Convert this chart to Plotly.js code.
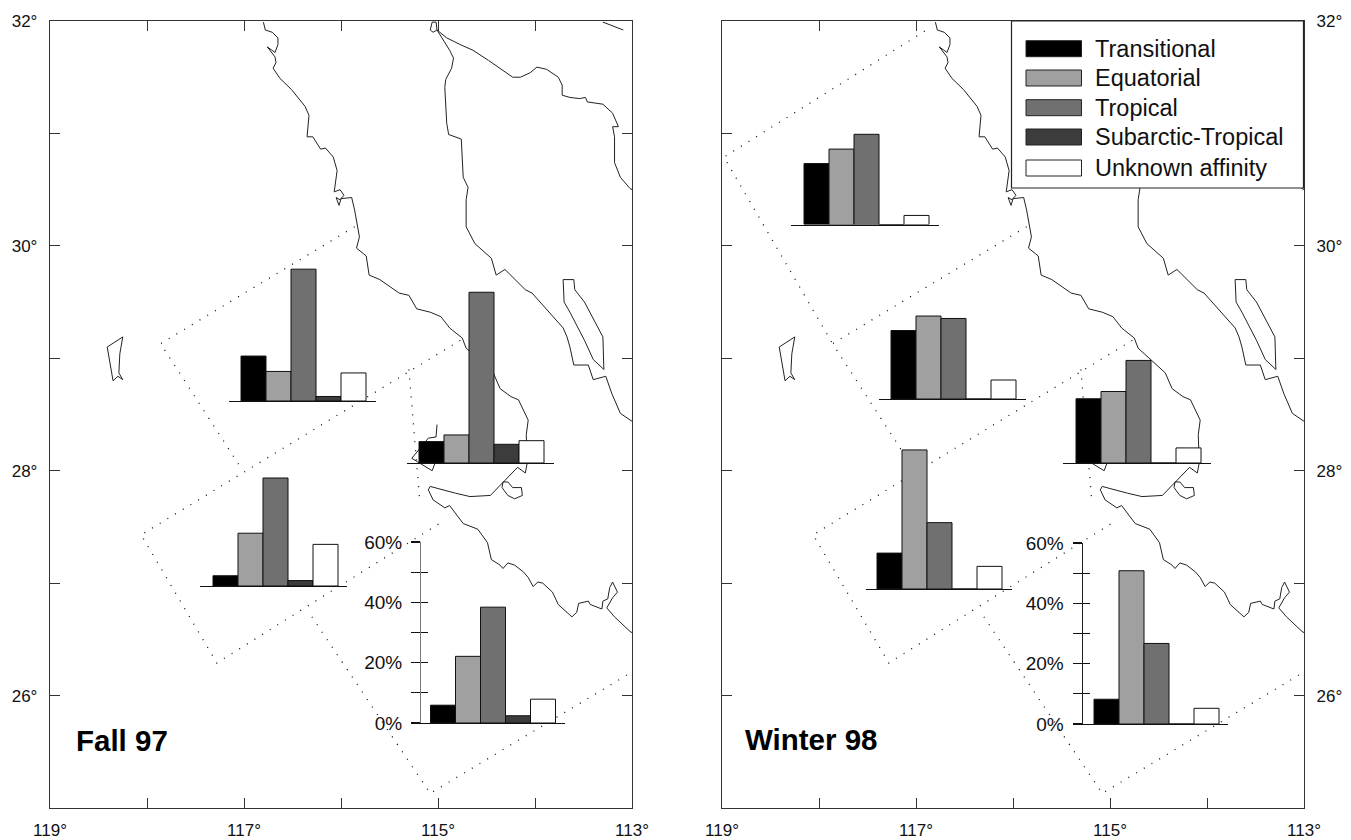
<!DOCTYPE html>
<html>
<head>
<meta charset="utf-8">
<script src="https://cdn.plot.ly/plotly-3.0.1.min.js"></script>
<style>html,body{margin:0;padding:0;background:#fff}</style>
</head>
<body>
<div id="chart" style="width:1351px;height:840px"></div>
<script>
// ---- categories and bar values (percent) ----
const categories = ['Transitional','Equatorial','Tropical','Subarctic-Tropical','Unknown affinity'];
const fall97NorthWest = [14.9, 9.8, 43.7, 1.5, 9.3];
const fall97Cedros    = [7.1, 9.3, 56.6, 6.2, 7.4];
const fall97Offshore  = [3.4, 17.5, 35.8, 1.8, 13.8];
const fall97South     = [5.9, 22.1, 38.4, 2.4, 7.9];
const winter98North   = [20.2, 25.0, 29.9, 0, 3.0];
const winter98NorthWest = [22.7, 27.5, 26.7, 0, 6.3];
const winter98Cedros  = [21.3, 23.7, 34.0, 0, 5.0];
const winter98Offshore = [11.9, 46.1, 22.0, 0, 7.5];
const winter98South   = [8.2, 50.8, 26.7, 0, 5.2];

const lonTicks = [119,118,117,116,115,114,113];
const lonLabels = ['119°','','117°','','115°','','113°'];
const latTicks = [25,26,27,28,29,30,31,32];
const latLabels = ['','26°','','28°','','30°','','32°'];
const pctTicks = [0,10,20,30,40,50,60];
const pctLabels = ['0%','','20%','','40%','','60%'];

// ---- coastline (lon, lat) ----
const pacificLon = [116.80,116.78,116.71,116.65,116.65,116.68,116.76,116.68,116.67,116.70,116.63,116.51,116.37,116.33,116.35,116.29,116.21,116.16,116.08,116.04,116.07,116.01,115.97,116.01,116.05,116.02,116.00,115.89,115.86,115.81,115.84,115.74,115.71,115.60,115.40,115.30,115.22,115.08,114.97,114.88,114.75,114.71,114.43,114.36,114.25,114.17,114.07,114.09,114.08,114.10,114.18,114.33,114.46,114.67,114.82,115.08,115.10,115.05,114.93,114.88,114.82,114.74,114.59,114.49,114.45,114.36,114.33,114.28,114.21,114.12,114.07,114.02,113.97,113.92,113.82,113.76,113.62,113.57,113.55,113.45,113.43,113.31,113.30,113.25,113.23,113.20,113.15,113.20,113.26,113.18,113.02,113.00];
const pacificLat = [31.99,31.92,31.90,31.85,31.79,31.72,31.77,31.68,31.63,31.58,31.49,31.39,31.24,31.16,30.97,30.97,30.86,30.87,30.79,30.67,30.48,30.50,30.45,30.41,30.43,30.36,30.42,30.43,30.32,30.08,29.98,29.91,29.74,29.70,29.58,29.56,29.44,29.41,29.37,29.27,29.18,29.09,28.87,28.73,28.66,28.63,28.45,28.32,28.07,27.98,28.03,27.90,27.78,27.77,27.80,27.86,27.83,27.74,27.67,27.69,27.62,27.53,27.48,27.36,27.21,27.16,27.13,27.18,27.16,27.10,27.05,26.97,27.01,27.00,26.92,26.81,26.70,26.74,26.82,26.84,26.81,26.77,26.84,26.86,26.96,27.01,26.92,26.87,26.78,26.70,26.57,26.56];
const lagoonLon = [114.33,114.34,114.28,114.21,114.13,114.14,114.23,114.28,114.33];
const lagoonLat = [27.90,27.85,27.78,27.75,27.78,27.85,27.85,27.90,27.90];
const cedrosLon = [115.01,115.02,115.10,115.27,115.06,115.03];
const cedrosLat = [28.41,28.30,28.29,28.11,28.00,28.07];
const guadalupeLon = [118.41,118.25,118.28,118.29,118.25,118.30,118.35,118.38,118.41];
const guadalupeLat = [29.10,29.19,29.04,28.87,28.81,28.84,28.80,28.96,29.10];
const deltaLon = [115.08,115.05,115.01,115.02,115.06,115.08];
const deltaLat = [31.92,31.90,31.92,31.99,31.99,31.92];
const gulfBajaLon = [115.01,114.88,114.84,114.86,114.92,114.93,114.91,114.89,114.76,114.75,114.74,114.69,114.71,114.71,114.62,114.45,114.40,114.31,114.10,114.03,113.86,113.71,113.67,113.64,113.60,113.45,113.40,113.27,113.21,113.12,113.00];
const gulfBajaLat = [31.92,31.74,31.67,31.58,31.48,31.41,31.09,30.99,30.95,30.76,30.61,30.52,30.41,30.17,30.02,29.89,29.74,29.79,29.61,29.58,29.41,29.27,29.19,29.10,28.94,28.94,28.81,28.84,28.69,28.51,28.44];
const sonoraLon = [115.01,114.91,114.77,114.64,114.48,114.36,114.23,114.15,114.05,113.98,113.88,113.76,113.72,113.72,113.64,113.54,113.48,113.46,113.30,113.20,113.14,113.20,113.18,113.18,113.12,113.02,113.00];
const sonoraLat = [31.92,31.85,31.79,31.74,31.65,31.58,31.50,31.50,31.54,31.59,31.57,31.50,31.43,31.34,31.32,31.31,31.32,31.28,31.26,31.18,31.06,31.06,30.97,30.74,30.61,30.51,30.50];
const cornerLon = [113.30,113.09];
const cornerLat = [31.99,31.92];
const angelLon = [113.71,113.60,113.59,113.49,113.30,113.29,113.40,113.49,113.64,113.70,113.71];
const angelLat = [29.70,29.70,29.61,29.50,29.19,28.90,28.99,29.16,29.41,29.50,29.70];
const coast = [[pacificLon,pacificLat],[lagoonLon,lagoonLat],[cedrosLon,cedrosLat],[guadalupeLon,guadalupeLat],[deltaLon,deltaLat],[gulfBajaLon,gulfBajaLat],[sonoraLon,sonoraLat],[cornerLon,cornerLat],[angelLon,angelLat]];

// ---- dotted survey boundaries (lon, lat) ----
const dotsCommon = [
  [[115.86,117.86,117.02],[30.17,29.13,28.01]],
  [[114.77,118.06,117.28,114.95],[29.16,27.43,26.29,27.55]],
  [[116.30,115.08,113.00],[26.70,25.13,26.21]],
  [[115.30,115.19],[28.90,27.75]]
];
const dotsWinterOnly = [
  [[116.91,118.98,117.86],[31.91,30.79,29.13]]
];

// ---- placement of the small charts on the page (pixels) ----
const W = 1351, H = 840;
const insets = [
  {v:fall97NorthWest, l:229, r:376, bar:241, base:401},
  {v:fall97Cedros,    l:407, r:554, bar:419, base:463},
  {v:fall97Offshore,  l:200, r:347, bar:213, base:586},
  {v:fall97South,     l:411, r:565, bar:430.5, base:723, ax:420},
  {v:winter98North,   l:791, r:939, bar:804, base:224.5},
  {v:winter98NorthWest, l:879, r:1026, bar:891, base:399},
  {v:winter98Cedros,  l:1063, r:1211, bar:1076, base:463},
  {v:winter98Offshore,l:865.5, r:1011.5, bar:877, base:589},
  {v:winter98South,   l:1074, r:1228, bar:1094, base:724, ax:1081.5}
];
const colors = ['#000000','#a0a0a0','#707070','#3c3c3c','#ffffff'];

const px = x => x / W, py = y => 1 - y / H;
const traces = [];
const layout = {
  width: W, height: H, showlegend: false, paper_bgcolor: '#fff', plot_bgcolor: 'rgba(0,0,0,0)',
  margin: {l:0,r:0,t:0,b:0,autoexpand:false},
  font: {family:'Liberation Sans, Arial, sans-serif', color:'#111'},
  bargap: 0, hovermode: false, shapes: [], annotations: []
};

function mainAxes(n, x0, x1, side) {
  const s = n === 1 ? '' : String(n);
  const common = {showgrid:false, zeroline:false, ticks:'inside', ticklen:10, tickwidth:1, tickcolor:'#333',
    showline:true, linecolor:'#333', linewidth:1.2, mirror:'ticks', tickfont:{size:17,color:'#111'}, fixedrange:true};
  layout['xaxis'+s] = Object.assign({}, common, {domain:[px(x0),px(x1)], range:[119,113], tickmode:'array', tickvals:lonTicks, ticktext:lonLabels, anchor:'y'+s, ticklabelstandoff:6});
  layout['yaxis'+s] = Object.assign({}, common, {domain:[py(808),py(21)], range:[25,32], tickmode:'array', tickvals:latTicks, ticktext:latLabels, anchor:'x'+s, side:side, ticklabelstandoff:8});
}
mainAxes(1, 50, 632, 'left');
mainAxes(2, 722, 1304, 'right');

function addLines(list, n, style) {
  const s = n === 1 ? '' : String(n);
  list.forEach(f => traces.push({type:'scatter', mode:'lines', x:f[0], y:f[1], xaxis:'x'+s, yaxis:'y'+s, line:style, hoverinfo:'skip', cliponaxis:true}));
}
const coastStyle = {color:'#222', width:1};
const dotStyle = {color:'#111', width:1.3, dash:'1px,8px'};
[1,2].forEach(n => { addLines(coast, n, coastStyle); addLines(dotsCommon, n, dotStyle); });
addLines(dotsWinterOnly, 2, dotStyle);

let next = 3;
insets.forEach(ins => {
  const s = String(next++);
  const lo = -0.5 - (ins.bar - ins.l) / 25, hi = 4.5 + (ins.r - ins.bar - 125) / 25;
  layout['xaxis'+s] = {domain:[px(ins.l),px(ins.r)], range:[lo,hi], anchor:'y'+s, showgrid:false, zeroline:false, showticklabels:false, ticks:'', showline:true, linecolor:'#111', linewidth:1.3, fixedrange:true};
  layout['yaxis'+s] = {domain:[py(ins.base),py(ins.base-181)], range:[0,60], anchor:'x'+s, showgrid:false, zeroline:false, visible:false, fixedrange:true};
  if (ins.ax) {
    Object.assign(layout['yaxis'+s], {visible:true, anchor:'free', position:px(ins.ax), side:'left', showline:true, linecolor:ins.ax < 700 ? '#777' : '#222', linewidth:1.3,
      tickmode:'array', tickvals:pctTicks, ticktext:pctLabels, ticks:'outside', ticklen:9, tickwidth:1.2, tickcolor:'#111', tickfont:{size:19,color:'#111'}, ticklabelstandoff:5});
  }
  traces.push({type:'bar', x:[0,1,2,3,4], y:ins.v, xaxis:'x'+s, yaxis:'y'+s, width:1, text:categories, textposition:'none', hoverinfo:'skip',
    marker:{color:colors, line:{color:'#111', width:1}}});
});
// inner half of the crossing ticks on the two labelled scales
insets.filter(i => i.ax).forEach(ins => {
  const s = String(next++);
  const host = insets.indexOf(ins) + 3;
  layout['yaxis'+s] = {domain:layout['yaxis'+host].domain, range:[0,60], overlaying:'y'+host, anchor:'free', position:px(ins.ax), side:'left',
    showgrid:false, zeroline:false, showline:false, showticklabels:false, tickmode:'array', tickvals:pctTicks, ticks:'inside', ticklen:7, tickwidth:1.2, tickcolor:'#111', fixedrange:true};
  traces.push({type:'scatter', mode:'lines', x:[null], y:[null], xaxis:'x'+host, yaxis:'y'+s, hoverinfo:'skip'});
});

// legend box
layout.shapes.push({type:'rect', layer:'above', xref:'paper', yref:'paper', x0:px(1011.5), x1:px(1303.5), y0:py(188), y1:py(21), fillcolor:'#fff', line:{color:'#222',width:1.2}});
const legendRows = [48.7, 78, 107.7, 137, 168];
categories.forEach((c,i) => {
  layout.shapes.push({type:'rect', layer:'above', xref:'paper', yref:'paper', x0:px(1026), x1:px(1081.5), y0:py(legendRows[i]+8), y1:py(legendRows[i]-8), fillcolor:colors[i], line:{color:'#222',width:1}});
  layout.annotations.push({xref:'paper', yref:'paper', x:px(1093), y:py(legendRows[i]), text:c, showarrow:false, xanchor:'left', yanchor:'middle', font:{size:23.5,color:'#111'}});
});
layout.annotations.push({xref:'paper', yref:'paper', x:px(74), y:py(740), text:'<b>Fall 97</b>', showarrow:false, xanchor:'left', yanchor:'middle', font:{size:29.5,color:'#000'}});
layout.annotations.push({xref:'paper', yref:'paper', x:px(743), y:py(739), text:'<b>Winter 98</b>', showarrow:false, xanchor:'left', yanchor:'middle', font:{size:29.5,color:'#000'}});

Plotly.newPlot('chart', traces, layout, {displayModeBar:false, staticPlot:true});
</script>
</body>
</html>
